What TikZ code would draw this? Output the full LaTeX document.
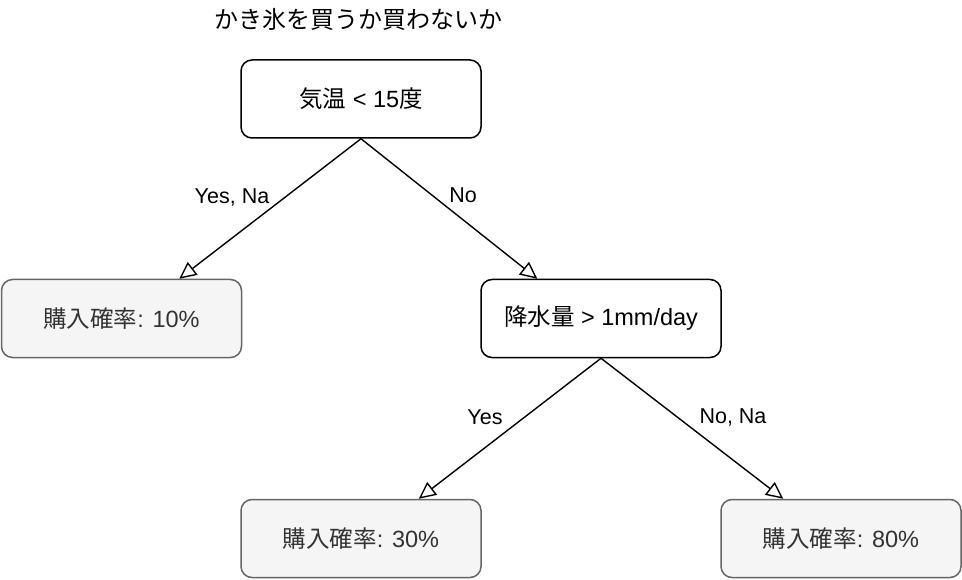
\documentclass[tikz,border=0pt]{standalone}
\usepackage{fontspec}
\setmainfont{Liberation Sans}
\newfontfamily\jp{Noto Sans CJK JP}
\usepackage{tikz}
\usetikzlibrary{arrows.meta, positioning}
\definecolor{leaffill}{HTML}{F5F5F5}
\definecolor{leafdraw}{HTML}{666666}
\definecolor{leaftext}{HTML}{333333}
\tikzstyle{arrow} = [line width=1.4pt,-{Triangle[open,length=17pt,width=16pt,line width=1.4pt]}]
\tikzset{test/.style={
    draw, line width=1.5pt, rounded corners=11pt, fill=white,
    minimum width=240pt, minimum height=78pt,
    font=\fontsize{23.5}{28}\selectfont
  },
  leaf/.style={
    test, draw=leafdraw, fill=leaffill, text=leaftext
  },
  lbl/.style={font=\fontsize{21.5}{26}\selectfont, inner sep=1pt},
}

\begin{document}
\begin{tikzpicture}[x=1pt, y=1pt]
        \useasboundingbox (0,0) rectangle (962,-580);

        \node[font=\fontsize{24}{28}\selectfont\jp] (title) at (358,-19) {かき氷を買うか買わないか};

        \node[test] (temp) at (361,-99) {{\jp 気温} < 15{\jp 度}};
        \node[leaf] (low) at (121.5,-318.5) {{\jp 購入確率}: 10\%};
        \node[test] (rain) at (601,-318.5) {{\jp 降水量} > 1mm/day};
        \node[leaf] (wet) at (361,-538.5) {{\jp 購入確率}: 30\%};
        \node[leaf] (dry) at (841,-538.5) {{\jp 購入確率}: 80\%};

        % edges end off centre, as in the original
        \draw[arrow] (temp.south) -- ([xshift=-63pt]low.north east);
        \draw[arrow] (temp.south) -- ([xshift=57pt]rain.north west);
        \draw[arrow] (rain.south) -- ([xshift=-63pt]wet.north east);
        \draw[arrow] (rain.south) -- ([xshift=63pt]dry.north west);

        \node[lbl] (yesna) at (232,-197) {Yes, Na};
        \node[lbl] (no) at (463,-195) {No};
        \node[lbl] (yes) at (485,-417) {Yes};
        \node[lbl] (nona) at (733,-417) {No, Na};
    \end{tikzpicture}
\end{document}
